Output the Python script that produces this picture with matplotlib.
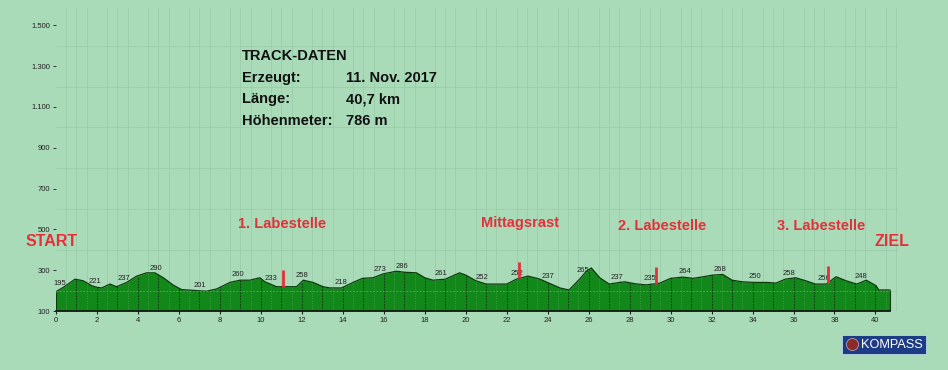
import matplotlib
matplotlib.use("Agg")
import matplotlib.pyplot as plt
import numpy as np
from matplotlib.patches import Rectangle, Ellipse

# ---------------- data ----------------
dist_km = [0.0, 0.36, 0.93, 1.33, 1.74, 2.0, 2.23, 2.63, 2.96, 3.45, 3.94, 4.42, 4.83,
           5.24, 5.72, 6.13, 6.86, 7.35, 7.84, 8.49, 8.98, 9.46, 9.95, 10.2, 10.77,
           11.74, 12.07, 12.55, 13.04, 13.37, 13.94, 14.5, 14.96, 15.48, 15.97, 16.62,
           17.0, 17.6, 18.0, 18.4, 19.0, 19.7, 20.0, 20.5, 21.0, 22.0, 22.47, 23.04,
           23.6, 24.1, 24.6, 25.04, 25.56, 25.89, 26.13, 26.54, 27.0, 27.5, 27.76,
           28.3, 28.8, 29.46, 30.0, 30.6, 31.1, 31.6, 32.06, 32.55, 33.0, 33.5, 34.1,
           34.7, 35.15, 35.6, 36.1, 36.6, 37.07, 37.6, 38.08, 38.57, 39.09, 39.55,
           40.03, 40.16, 40.7]
elev_m = [195, 216, 256, 248, 224, 216, 213, 232, 219, 240, 271, 287, 287,
          263, 227, 205, 200, 197, 208, 240, 251, 251, 263, 243, 219,
          219, 251, 240, 219, 213, 213, 240, 260, 263, 282, 295,
          290, 287, 263, 251, 256, 287, 276, 248, 232, 232, 256, 271,
          257, 235, 213, 203, 256, 295, 311, 263, 232, 240, 243,
          233, 228, 236, 260, 266, 260, 268, 276, 279, 251, 243, 240,
          240, 237, 256, 263, 248, 232, 232, 268, 248, 232, 251,
          224, 203, 203]

label_km = [0.2, 1.9, 3.3, 4.9, 7.0, 8.9, 10.5, 12.0, 13.9, 15.8, 16.9, 18.8,
            20.8, 22.5, 24.0, 25.7, 27.4, 29.0, 30.7, 32.4, 34.1, 35.8, 37.5, 39.3]
label_val = [195, 221, 237, 290, 201, 260, 233, 258, 218, 273, 286, 261,
             252, 252, 237, 265, 237, 235, 264, 268, 250, 258, 256, 248]

stop_km = [11.1, 22.6, 29.3, 37.7]
stop_names = ["1. Labestelle", "Mittagsrast", "2. Labestelle", "3. Labestelle"]

yticks = [100, 300, 500, 700, 900, 1100, 1300, 1500]
xticks = list(range(0, 41, 2))

track_keys = ["Erzeugt:", "Länge:", "Höhenmeter:"]
track_vals = ["11. Nov. 2017", "40,7 km", "786 m"]

# ---------------- style ----------------
W, H = 948, 370
BG = "#a9dbb9"
GRID = "#9acba9"
FILL = "#12871a"
EDGE = "#0c3a0c"
RED = "#e5303b"
FONT = ["Liberation Sans", "DejaVu Sans"]

def fx(px):
    return px / W

def fy(py):
    return 1 - py / H

fig = plt.figure(figsize=(W / 100, H / 100), dpi=100, facecolor=BG)
ax = fig.add_axes([fx(56), fy(311), fx(898) - fx(56), fy(8) - fy(311)])
ax.set_facecolor(BG)
ax.set_xlim(0, 41.1)
ax.set_ylim(100, 1585)

# background grid
ax.set_xticks(np.arange(0, 41.1, 0.5), minor=True)
ax.set_yticks(np.arange(100, 1585, 100), minor=True)
ax.grid(which="minor", color=GRID, lw=0.5, zorder=0)
ax.tick_params(which="minor", length=0)

d = np.array(dist_km)
e = np.array(elev_m)
ax.fill_between(d, 100, e, color=FILL, zorder=2, lw=0)
ax.plot(d, e, color=EDGE, lw=0.9, zorder=3)
ax.vlines([d[0], d[-1]], 100, [e[0], e[-1]], color=EDGE, lw=0.8, zorder=3)

# half-km light lines inside the profile
hk = np.arange(0.5, 40.6, 1.0)
ax.vlines(hk, 100, np.interp(hk, d, e), color="#4fa050", lw=0.5,
          linestyles=(0, (1.5, 2)), zorder=3)
# km lines inside the profile
km = np.arange(1, 41)
ax.vlines(km, 100, np.interp(km, d, e), color="#0a2a0a", lw=0.7,
          linestyles=(0, (1.5, 1.5)), zorder=3)
# light horizontal line inside the profile
ax.hlines([200], 0, d[-1], color="#5faa60", lw=0.6, linestyles=(0, (2, 2)), zorder=3)

# elevation labels
for k, v in zip(label_km, label_val):
    ax.annotate(str(v), (k, np.interp(k, d, e)), xytext=(0, 1.5),
                textcoords="offset points", ha="center", va="bottom",
                fontsize=5.5, color="#222222", family=FONT, zorder=5)

# stop markers
for k in stop_km:
    base = np.interp(k, d, e)
    ax.vlines(k, base, base + 80, color=RED, lw=2, zorder=6)

# axes
for s in ["top", "right", "left"]:
    ax.spines[s].set_visible(False)
ax.spines["bottom"].set_bounds(0, d[-1])
ax.spines["bottom"].set_color("#111111")
ax.spines["bottom"].set_linewidth(1.2)
ax.spines["bottom"].set_zorder(4)
ax.set_xticks(xticks)
ax.set_xticklabels([str(x) for x in xticks], fontsize=5.5, family=FONT, color="#222222")
ax.set_yticks(yticks)
ax.set_yticklabels([f"{y:,}".replace(",", ".") for y in yticks], fontsize=5.5,
                   family=FONT, color="#222222")
ax.tick_params(axis="x", length=2, width=0.8, color="#222222", pad=2)
ax.tick_params(axis="y", length=2.5, width=0.7, color="#333333", pad=1.5)

# red labels
red_pos = [(282, 224), (520, 223), (662, 226), (821, 226)]
for (px, py), name in zip(red_pos, stop_names):
    fig.text(fx(px), fy(py), name, color=RED, fontsize=10.5, fontweight="bold",
             family=FONT, ha="center", va="center")
fig.text(fx(52), fy(242), "START", color=RED, fontsize=11.5, fontweight="bold",
         family=FONT, ha="center", va="center")
fig.text(fx(892), fy(242), "ZIEL", color=RED, fontsize=11.5, fontweight="bold",
         family=FONT, ha="center", va="center")

# track data
fig.text(fx(242), fy(56), "TRACK-DATEN", fontsize=10.5, fontweight="bold",
         family=FONT, ha="left", va="center", color="#111111")
for i, (k, v) in enumerate(zip(track_keys, track_vals)):
    yy = 78 + i * 21.5
    fig.text(fx(242), fy(yy), k, fontsize=10.5, fontweight="bold", family=FONT,
             ha="left", va="center", color="#111111")
    fig.text(fx(346), fy(yy), v, fontsize=10.5, fontweight="bold", family=FONT,
             ha="left", va="center", color="#111111")

# KOMPASS logo
fig.patches.append(Rectangle((fx(842), fy(354)), fx(926) - fx(842), fy(335) - fy(354),
                             transform=fig.transFigure, facecolor="#1d3c86",
                             edgecolor="#cfe8f0", lw=0.5, zorder=10))
fig.patches.append(Ellipse((fx(852.5), fy(344.5)), 12 / W, 12 / H, transform=fig.transFigure,
                           facecolor="#8a2a2a", edgecolor="#d9b0b0", lw=0.5, zorder=11))
fig.text(fx(861), fy(344.5), "KOMPASS", color="white", fontsize=9.2, family=FONT,
         ha="left", va="center", zorder=12)

fig.savefig("out.png", dpi=100, facecolor=BG)
